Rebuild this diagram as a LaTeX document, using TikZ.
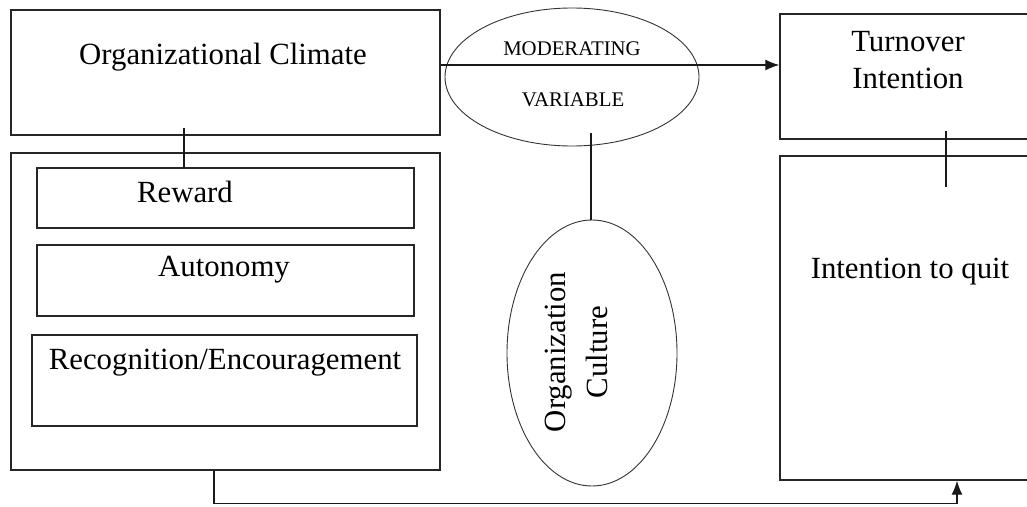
\documentclass[tikz,border=0pt]{standalone}
\usepackage{fontspec}
\setmainfont{Liberation Serif}
\usetikzlibrary{arrows.meta,shapes.geometric}
\begin{document}
\begin{tikzpicture}[x=1pt,y=-1pt,
  box/.style={draw=black!85,line width=1.4pt,rectangle,inner sep=0pt},
  oval/.style={draw=black!80,line width=0.9pt,ellipse,inner sep=0pt},
  big/.style={font=\fontsize{30.8}{37}\selectfont,inner sep=0pt},
  small/.style={font=\fontsize{20.8}{24}\selectfont,inner sep=0pt},
  conn/.style={draw=black!90,line width=1.3pt},
  arr/.style={conn,-{Latex[length=14pt,width=11pt]}}]
\useasboundingbox (0,0) rectangle (1027,506);
\clip (0,0) rectangle (1027,506);
% boxes
\node[box,minimum width=429,minimum height=125] (oc) at (225.5,72.5) {};
\node[box,minimum width=429,minimum height=317] (outer) at (225.5,311.5) {};
\node[box,minimum width=377,minimum height=60] (rew) at (225.5,198) {};
\node[box,minimum width=377,minimum height=71] (aut) at (225.5,280.5) {};
\node[box,minimum width=385,minimum height=91] (rec) at (224.5,380.5) {};
\node[box,minimum width=260,minimum height=125] (ti) at (910,76.5) {};
\node[box,minimum width=260,minimum height=324] (iq) at (910,318) {};
\node[oval,minimum width=254,minimum height=138] (mv) at (572,77) {};
\node[oval,minimum width=170,minimum height=266] (cult) at (592,353) {};
% texts
\node[big] (toc) at (223,57) {Organizational Climate};
\node[small] (tmod) at (572,49) {MODERATING};
\node[small] (tvar) at (573,100) {VARIABLE};
\node[big,align=center] (tti) at (908,60) {Turnover\\Intention};
\node[big] (tiq) at (910,272) {Intention to quit};
\node[big] (trew) at (185,192) {Reward};
\node[big] (taut) at (224,270) {Autonomy};
\node[big] (trec) at (225,363) {Recognition/Encouragement};
\node[big,align=center,rotate=90,font=\fontsize{30.8}{42}\selectfont] (tcul) at (576,352) {Organization\\Culture};
% connectors
\coordinate (ay) at (0,65);
\draw[arr] (oc.east |- ay) -- (ti.west |- ay);
\coordinate (c1) at (184,128);
\coordinate (c2) at (184,168);
\draw[conn] (c1) -- (c2);
\coordinate (m1) at (591,133);
\draw[conn] (m1) -- (cult.north -| m1);
\coordinate (t1) at (946,131);
\coordinate (t2) at (946,187);
\draw[conn] (t1) -- (t2);
\coordinate (bx) at (214,0);
\coordinate (ax) at (957,0);
\draw[arr] (outer.south -| bx) -- ++(0,33) -| (iq.south -| ax);
\end{tikzpicture}
\end{document}
